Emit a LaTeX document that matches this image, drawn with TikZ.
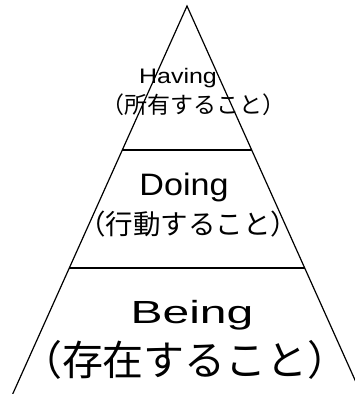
\documentclass[tikz,border=0pt]{standalone}
\usepackage{graphicx}
\usepackage{fontspec}
\usetikzlibrary{calc}
\newfontfamily\jpfont{Noto Sans CJK JP}
\newfontfamily\latfont{Liberation Sans}
\tikzset{
  edge/.style={line width=1.2pt, line cap=round},
  sep/.style={line width=1.2pt},
  lbl/.style={anchor=base, inner sep=0pt, outer sep=0pt, text=black}
}
\begin{document}
\begin{tikzpicture}[x=1pt,y=-1pt]
\useasboundingbox (0,0) rectangle (355,394);
\begin{scope}
\clip (0,0) rectangle (355,394);
\coordinate (apex) at (187,6);
\coordinate (bl) at (12.7,394);
\coordinate (br) at (361.3,394);
\coordinate (l1) at ($(apex)!0.3711!(bl)$);
\coordinate (r1) at ($(apex)!0.3711!(br)$);
\coordinate (l2) at ($(apex)!0.6753!(bl)$);
\coordinate (r2) at ($(apex)!0.6753!(br)$);
\draw[edge] (bl) -- (apex) -- (br);
\draw[sep] (l1) -- (r1);
\draw[sep] (l2) -- (r2);
\end{scope}
\node[lbl] (having) at (178,83) {\latfont\fontsize{21}{21}\selectfont\scalebox{1.19}[1]{Having}};
\node[lbl] (havingjp) at (193,113.7) {\jpfont\fontsize{23}{23}\selectfont （所有すること）};
\node[lbl] (doing) at (184,195) {\latfont\fontsize{31}{31}\selectfont\scalebox{1.1}[1]{Doing}};
\node[lbl] (doingjp) at (188,234) {\jpfont\fontsize{27.5}{27.5}\selectfont （行動すること）};
\node[lbl] (being) at (192,323) {\latfont\fontsize{32}{32}\selectfont\scalebox{1.5}[1]{Being}};
\node[lbl] (beingjp) at (185,375) {\jpfont\fontsize{41}{41}\selectfont （存在すること）};
\end{tikzpicture}
\end{document}
